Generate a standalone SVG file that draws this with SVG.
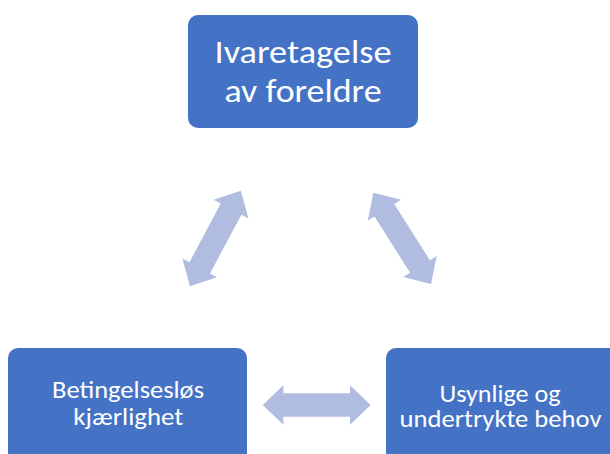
<svg xmlns="http://www.w3.org/2000/svg" width="610" height="454" viewBox="0 0 610 454">
<defs>
<style>
.box{fill:#4472C4;}
.t{fill:#FFFFFF;font-family:Carlito,Lato,"Open Sans",sans-serif;text-anchor:middle;}
.big{font-size:32px;}
.sm{font-size:24px;}
.arr{fill:#B0BDE0;}
</style>
<path id="dbl" d="M -54 0 L -33.3 -19.7 L -33.3 -11.7 L 33.3 -11.7 L 33.3 -19.7 L 54 0 L 33.3 19.7 L 33.3 11.7 L -33.3 11.7 L -33.3 19.7 Z"/>
</defs>
<rect width="610" height="454" fill="#FFFFFF"/>
<g id="connectors">
<use href="#dbl" class="arr" transform="translate(215.4,238.5) rotate(-61.9)"/>
<use href="#dbl" class="arr" transform="translate(402.2,238.4) rotate(57.7)"/>
<use href="#dbl" class="arr" transform="translate(316.7,405)"/>
</g>
<g id="node-top">
<rect class="box" x="188" y="15" width="230" height="113" rx="10"/>
<text class="t big" x="303" y="63" textLength="177" lengthAdjust="spacingAndGlyphs">Ivaretagelse</text>
<text class="t big" x="303" y="102" textLength="157" lengthAdjust="spacingAndGlyphs">av foreldre</text>
</g>
<g id="node-left">
<rect class="box" x="8" y="348" width="239" height="120" rx="10"/>
<text class="t sm" x="128" y="397.5" textLength="152" lengthAdjust="spacingAndGlyphs">Betingelsesløs</text>
<text class="t sm" x="128.3" y="425" textLength="110" lengthAdjust="spacingAndGlyphs">kjærlighet</text>
</g>
<g id="node-right">
<rect class="box" x="386" y="348" width="239" height="120" rx="10"/>
<text class="t sm" x="500" y="401.5" textLength="121" lengthAdjust="spacingAndGlyphs">Usynlige og</text>
<text class="t sm" x="500.5" y="427" textLength="202" lengthAdjust="spacingAndGlyphs">undertrykte behov</text>
</g>
</svg>
